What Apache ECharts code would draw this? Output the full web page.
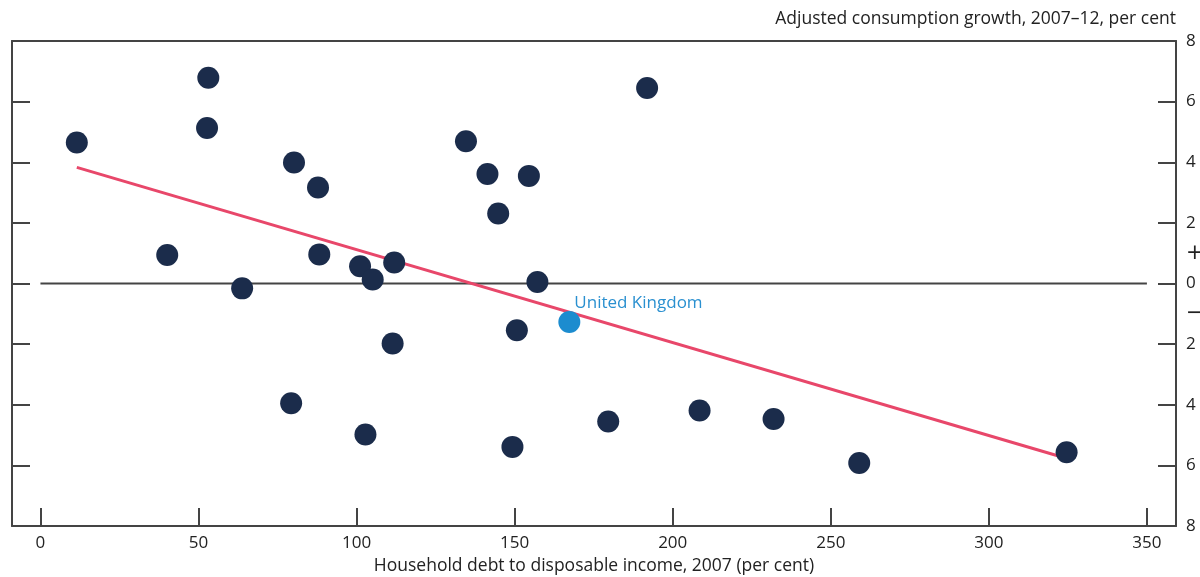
<!DOCTYPE html>
<html>
<head>
    <meta charset="utf-8">
    <title>Household debt and consumption growth</title>
    <script src="https://cdn.jsdelivr.net/npm/echarts@6/dist/echarts.min.js"></script>
</head>
<body style="margin:0;background:#fff;">
    <div id="main" style="width:1200px;height:577px;"></div>
    <script type="text/javascript">
        // debt to income (x) and consumption growth (y), one entry per country
        var debt = [11.5, 53.1, 52.7, 40.1, 63.8, 80.2, 87.8, 88.2, 79.3, 101.1,
                    105.1, 111.9, 111.4, 102.8, 134.6, 141.4, 144.8, 154.5, 157.2, 150.7,
                    149.3, 191.9, 179.6, 208.5, 231.9, 259.0, 324.6];
        var growth = [4.65, 6.79, 5.13, 0.94, -0.16, 3.99, 3.17, 0.96, -3.95, 0.57,
                      0.13, 0.69, -1.98, -4.98, 4.69, 3.61, 2.31, 3.55, 0.05, -1.54,
                      -5.39, 6.45, -4.55, -4.19, -4.47, -5.92, -5.57];
        var ukPoint = [167.3, -1.27];
        // fitted line end points
        var fitX = [11.5, 322.3];
        var fitY = [3.83, -5.70];
        var xTicks = [0, 50, 100, 150, 200, 250, 300, 350];
        var yTicks = [-6, -4, -2, 0, 2, 4, 6];
        var yLabels = [-8, -6, -4, -2, -1, 0, 1, 2, 4, 6, 8];

        var pts = debt.map(function (d, i) { return [d, growth[i]]; });
        var fit = fitX.map(function (d, i) { return [d, fitY[i]]; });

        var font = 'Open Sans';
        var ink = '#222';
        var frame = '#444';

        var chart = echarts.init(document.getElementById('main'));
        var option = {
            animation: false,
            textStyle: { fontFamily: font },
            grid: { left: 12, right: 24, top: 41, bottom: 51, outerBoundsMode: 'none' },
            graphic: [{
                type: 'text', right: 24, top: 10,
                style: { text: 'Adjusted consumption growth, 2007\u201312, per cent', font: '17.5px "Open Sans"', fill: ink }
            }],
            xAxis: [{
                type: 'value', min: -9, max: 359.2, position: 'bottom',
                name: 'Household debt to disposable income, 2007 (per cent)',
                nameLocation: 'middle', nameGap: 31,
                nameTextStyle: { fontSize: 17.5, color: ink },
                splitLine: { show: false },
                axisLine: { show: true, onZero: false, lineStyle: { color: frame, width: 2 } },
                axisTick: { show: true, inside: true, length: 18, customValues: xTicks, lineStyle: { color: frame, width: 2 } },
                axisLabel: { customValues: xTicks, fontSize: 17, color: ink, margin: 9 }
            }, {
                type: 'value', min: -9, max: 359.2, position: 'top',
                splitLine: { show: false },
                axisLine: { show: true, onZero: false, lineStyle: { color: frame, width: 2 } },
                axisTick: { show: false }, axisLabel: { show: false }
            }],
            yAxis: [{
                type: 'value', min: -8, max: 8, position: 'right',
                splitLine: { show: false },
                axisLine: { show: true, onZero: false, lineStyle: { color: frame, width: 2 } },
                axisTick: { show: true, inside: true, length: 18, customValues: yTicks, lineStyle: { color: frame, width: 2 } },
                axisLabel: {
                    customValues: yLabels, fontSize: 17, color: ink, margin: 10,
                    rich: { sign: { fontSize: 21, color: ink, fontFamily: 'DejaVu Sans' } },
                    formatter: function (v) {
                        if (v === 1) return '{sign|+}';
                        if (v === -1) return '{sign|\u2212}';
                        return String(Math.abs(v));
                    }
                }
            }, {
                type: 'value', min: -8, max: 8, position: 'left',
                splitLine: { show: false },
                axisLine: { show: true, onZero: false, lineStyle: { color: frame, width: 2 } },
                axisTick: { show: true, inside: true, length: 18, customValues: yTicks, lineStyle: { color: frame, width: 2 } },
                axisLabel: { show: false }
            }],
            series: [{
                type: 'line', data: [[0, 0], [350, 0]], symbol: 'none', silent: true,
                lineStyle: { color: frame, width: 2 }, z: 1
            }, {
                type: 'line', data: fit, symbol: 'none', silent: true,
                lineStyle: { color: '#e8476a', width: 3 }, z: 2
            }, {
                type: 'scatter', data: pts, symbolSize: 22,
                itemStyle: { color: '#1b2c4b', opacity: 1 }, z: 3
            }, {
                type: 'scatter', data: [ukPoint], symbolSize: 22,
                itemStyle: { color: '#1c8ccf', opacity: 1 }, z: 4,
                label: {
                    show: true, position: 'right', formatter: 'United Kingdom',
                    color: '#2a90d0', fontSize: 17, offset: [-11, -19]
                }
            }]
        };
        chart.setOption(option);
    </script>
</body>
</html>
